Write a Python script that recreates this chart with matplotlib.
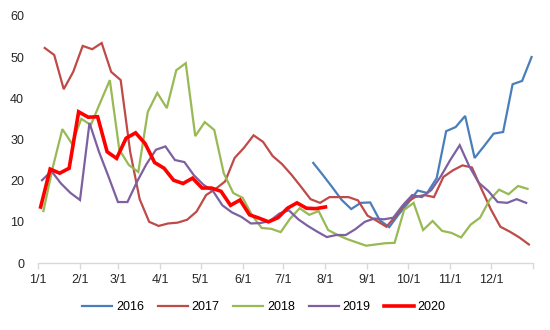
import numpy as np
import matplotlib.pyplot as plt

plt.rcParams["font.family"] = ["Liberation Sans", "DejaVu Sans"]

# weekly (Friday) readings, first Friday of each year as day offset
start_2016, start_2017, start_2018, start_2019, start_2020 = 203, 5, 4, 3, 2

v2016 = [24.3, 21.4, 18.4, 15.3, 13.1, 14.6, 14.7, 10.4, 8.7, 11.8, 14.6, 17.6,
         17.0, 20.6, 32.0, 33.0, 35.7, 25.5, 28.4, 31.4, 31.8, 43.4, 44.2, 50.0]

v2017 = [52.2, 50.5, 42.2, 46.4, 52.7, 51.9, 53.4, 46.4, 44.4, 27.0, 15.5, 10.0,
         9.0, 9.6, 9.8, 10.5, 12.5, 16.5, 18.0, 19.8, 25.5, 28.0, 31.0, 29.4,
         26.0, 24.0, 21.4, 18.5, 15.5, 14.6, 16.0, 16.0, 16.0, 15.2, 11.5, 10.2,
         8.8, 11.5, 14.5, 16.0, 16.5, 16.0, 20.9, 22.5, 23.7, 23.2, 18.0, 13.0,
         8.8, 7.6, 6.2, 4.5]

v2018 = [12.6, 23.3, 32.5, 29.0, 35.0, 33.5, 39.0, 44.4, 27.5, 23.8, 22.1, 36.7,
         41.3, 37.6, 46.8, 48.5, 30.8, 34.2, 32.3, 21.8, 17.0, 15.8, 11.5, 8.5,
         8.3, 7.5, 10.8, 13.3, 11.7, 12.6, 8.0, 6.8, 5.8, 5.0, 4.2, 4.5,
         4.8, 4.9, 12.9, 14.6, 8.0, 10.2, 7.8, 7.3, 6.2, 9.3, 11.0, 15.3,
         17.8, 16.7, 18.7, 18.0]

v2019 = [20.1, 22.3, 19.3, 17.0, 15.3, 34.0, 27.0, 21.0, 14.8, 14.8, 19.7, 24.0,
         27.5, 28.3, 25.0, 24.5, 21.3, 19.0, 17.5, 14.0, 12.3, 11.2, 9.6, 9.7,
         10.2, 12.0, 12.8, 10.6, 9.0, 7.6, 6.3, 6.8, 6.8, 8.2, 10.0, 10.8,
         10.6, 11.0, 14.0, 16.5, 16.0, 17.7, 21.0, 25.0, 28.6, 23.5, 19.5, 17.5,
         14.8, 14.6, 15.5, 14.6]

v2020 = [13.6, 22.8, 21.8, 23.0, 36.7, 35.4, 35.5, 27.0, 25.4, 30.3, 31.6, 29.0,
         24.4, 23.0, 20.1, 19.3, 20.6, 18.2, 18.2, 17.4, 14.0, 15.3, 11.7, 10.9,
         10.0, 11.0, 13.3, 14.6, 13.3, 13.2, 13.6]

month_days = [0, 31, 59, 90, 120, 151, 181, 212, 243, 273, 304, 334, 365]
month_labels = ["1/1", "2/1", "3/1", "4/1", "5/1", "6/1", "7/1", "8/1",
                "9/1", "10/1", "11/1", "12/1", ""]

series = [
    ("2016", start_2016, v2016, "#4A7EBB", 1.6),
    ("2017", start_2017, v2017, "#BE4B48", 1.6),
    ("2018", start_2018, v2018, "#98B954", 1.6),
    ("2019", start_2019, v2019, "#7D60A0", 1.6),
    ("2020", start_2020, v2020, "#FF0000", 2.6),
]

fig = plt.figure(figsize=(5.5, 3.3), dpi=100)
ax = fig.add_axes([0.069, 0.203, 0.9, 0.749])

for name, start, vals, color, lw in series:
    days = start + 7 * np.arange(len(vals))
    ax.plot(days, vals, color=color, lw=lw, label=name, solid_joinstyle="miter")

ax.set_xlim(0, 365)
ax.set_ylim(0, 60)
ax.set_yticks(range(0, 61, 10))
ax.set_xticks(month_days)
ax.set_xticklabels(month_labels)

for side in ["top", "right", "left"]:
    ax.spines[side].set_visible(False)
ax.spines["bottom"].set_color("#D9D9D9")
ax.spines["bottom"].set_linewidth(1)
ax.tick_params(axis="y", length=0, pad=10, labelsize=9, labelcolor="#262626")
ax.tick_params(axis="x", length=4, width=1, color="#D9D9D9", pad=4,
               labelsize=9, labelcolor="#262626")

fig.legend(loc="center", bbox_to_anchor=(0.48, 0.07), ncol=5, frameon=False,
           fontsize=9, handlelength=2.4, handletextpad=0.3, columnspacing=1.1)

fig.savefig("out.png", dpi=100)
